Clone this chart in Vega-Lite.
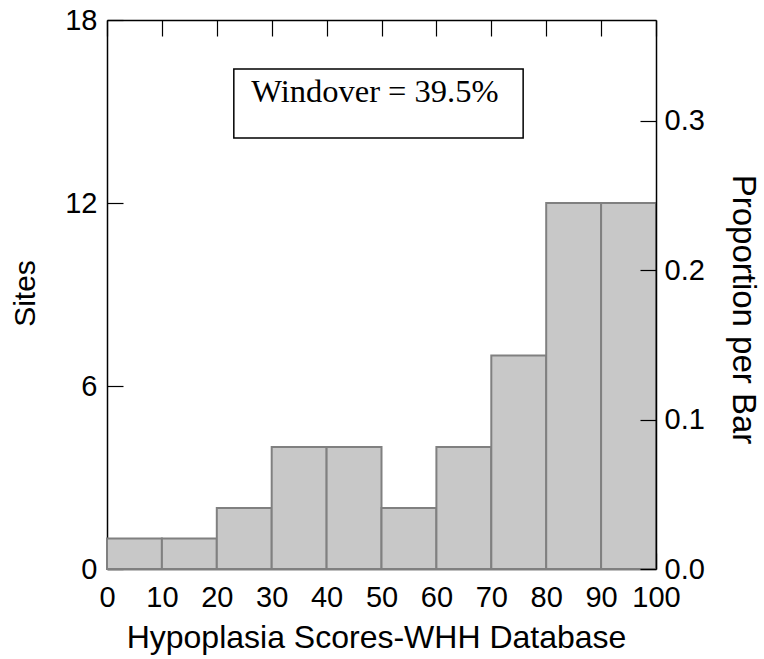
{
  "$schema": "https://vega.github.io/schema/vega-lite/v6.json",
  "width": 549,
  "height": 549,
  "autosize": {"type": "none"},
  "padding": {"left": 107, "top": 20, "right": 108, "bottom": 90},
  "background": "white",
  "config": {
    "view": {"stroke": null},
    "axis": {
      "labelFont": "Liberation Sans",
      "titleFont": "Liberation Sans",
      "labelColor": "black",
      "titleColor": "black",
      "tickColor": "black",
      "domainColor": "black",
      "domainWidth": 1.5,
      "tickWidth": 1.2,
      "grid": false,
      "titleFontWeight": "normal",
      "labelFontSize": 29,
      "labelOverlap": false,
      "labelFlush": false,
      "labelBound": false
    }
  },
  "datasets": {
    "bars": [
      {"start": 0, "end": 10, "sites": 1},
      {"start": 10, "end": 20, "sites": 1},
      {"start": 20, "end": 30, "sites": 2},
      {"start": 30, "end": 40, "sites": 4},
      {"start": 40, "end": 50, "sites": 4},
      {"start": 50, "end": 60, "sites": 2},
      {"start": 60, "end": 70, "sites": 4},
      {"start": 70, "end": 80, "sites": 7},
      {"start": 80, "end": 90, "sites": 12},
      {"start": 90, "end": 100, "sites": 12}
    ],
    "note": [{"label": "Windover = 39.5%"}]
  },
  "layer": [
    {
      "data": {"name": "bars"},
      "mark": {"type": "rect", "fill": "#c8c8c8", "stroke": "#808080", "strokeWidth": 2},
      "encoding": {
        "x": {
          "field": "start", "type": "quantitative",
          "scale": {"domain": [0, 100], "nice": false, "zero": false},
          "axis": {
            "orient": "bottom",
            "title": "Hypoplasia Scores-WHH Database",
            "values": [0, 10, 20, 30, 40, 50, 60, 70, 80, 90, 100],
            "tickSize": -16,
            "labelPadding": 53,
            "labelBaseline": "alphabetic",
            "titleFontSize": 32,
            "titleBaseline": "alphabetic",
            "titleX": 269,
            "titleY": 78
          }
        },
        "x2": {"field": "end"},
        "y": {
          "field": "sites", "type": "quantitative",
          "scale": {"domain": [0, 18], "nice": false},
          "axis": {
            "orient": "left",
            "title": "Sites",
            "values": [0, 6, 12, 18],
            "tickSize": -16,
            "labelPadding": 26,
            "titleFontSize": 30,
            "titleAngle": -90,
            "titleBaseline": "alphabetic",
            "titleX": -73,
            "titleY": 273
          }
        },
        "y2": {"datum": 0}
      }
    },
    {
      "data": {"name": "note"},
      "mark": {"type": "rect", "fill": "white", "stroke": "black", "strokeWidth": 1.5},
      "encoding": {
        "x": {"datum": 23.1, "type": "quantitative", "axis": null},
        "x2": {"datum": 75.8},
        "y": {"datum": 16.39, "type": "quantitative", "axis": null},
        "y2": {"datum": 14.13}
      }
    },
    {
      "data": {"name": "note"},
      "mark": {"type": "text", "font": "Liberation Serif", "fontSize": 32.5, "color": "black", "align": "center", "baseline": "alphabetic"},
      "encoding": {
        "x": {"datum": 48.8, "type": "quantitative", "axis": null},
        "y": {"datum": 15.31, "type": "quantitative", "axis": null},
        "text": {"field": "label"}
      }
    },
    {
      "data": {"name": "note"},
      "mark": {"type": "rule", "opacity": 0},
      "encoding": {
        "x": {
          "datum": 0, "type": "quantitative",
          "axis": {
            "orient": "top",
            "title": null,
            "labels": false,
            "values": [0, 10, 20, 30, 40, 50, 60, 70, 80, 90, 100],
            "tickSize": -16
          }
        },
        "y": {
          "datum": 0, "type": "quantitative",
          "axis": {
            "orient": "right",
            "title": "Proportion per Bar",
            "values": [0, 4.9, 9.8, 14.7],
            "labelExpr": "format(datum.value / 49, '.1f')",
            "tickSize": -16,
            "labelPadding": 24,
            "zindex": 1,
            "titleFontSize": 33,
            "titleAngle": 90,
            "titleBaseline": "alphabetic",
            "titleX": 76,
            "titleY": 289
          }
        }
      }
    }
  ]
}
